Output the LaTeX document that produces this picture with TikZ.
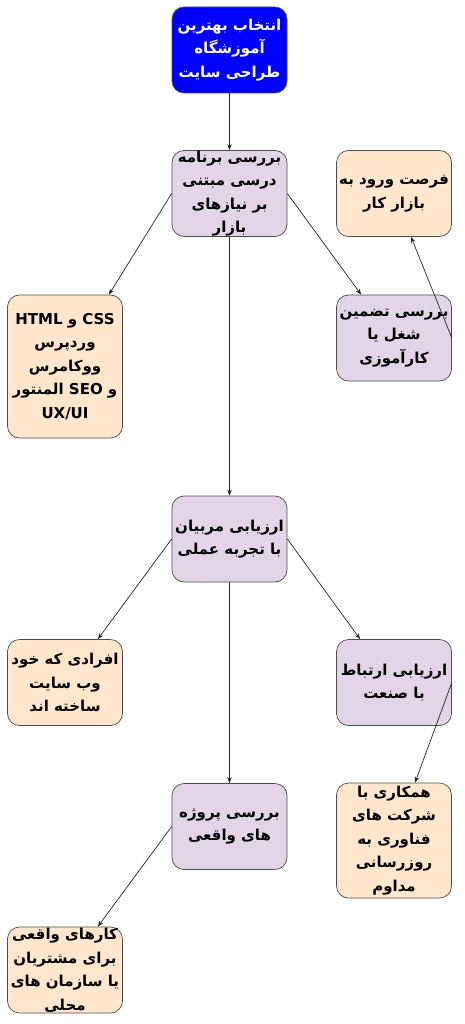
\documentclass[tikz,border=0pt]{standalone}
\usepackage{fontspec}
\usepackage{xcolor}
\usepackage{tikz}
\usetikzlibrary{arrows.meta, positioning}
\TeXXeTstate=1
\newfontfamily\arabicfont[Script=Arabic]{DejaVu Sans}
\newfontfamily\latinfont{DejaVu Sans}
\newcommand{\fa}[1]{\beginR #1\endR}
\newcommand{\lat}[1]{\beginL{\latinfont #1}\endL{}}
\definecolor{lavender}{HTML}{E1D5E7}
\definecolor{peach}{HTML}{FFE6CC}
\definecolor{edgegray}{HTML}{4D4D4D}
\tikzset{
    box/.style={rectangle, rounded corners=12pt, draw=edgegray, line width=0.7pt,
        minimum width=115pt, minimum height=86pt, align=center,
        inner xsep=0pt, inner ysep=0pt, font=\arabicfont\bfseries\fontsize{15}{23.5}\selectfont},
    startbox/.style={box, fill=blue, text=white},
    stepbox/.style={box, fill=lavender},
    resultbox/.style={box, fill=peach},
}

\begin{document}
\begin{tikzpicture}[x=1pt, y=-1pt, node distance=143.5pt, >={Stealth[length=6pt, width=4.5pt]}]
            \useasboundingbox (0,0) rectangle (464,1024);
            \node[startbox] (start) at (229.5,50) {\fa{انتخاب بهترین}\\ \fa{آموزشگاه}\\ \fa{طراحی سایت}};
            \node[stepbox, below of=start] (curriculum) {\fa{بررسی برنامه}\\ \fa{درسی مبتنی}\\ \fa{بر نیازهای}\\ \fa{بازار}};
            \node[resultbox, right of=curriculum, xshift=21pt] (market) {\fa{فرصت ورود به}\\ \fa{بازار کار}};
            \node[stepbox, below of=market, yshift=-1pt] (guarantee) {\fa{بررسی تضمین}\\ \fa{شغل یا}\\ \fa{کارآموزی}};
            \node[resultbox, below of=curriculum, xshift=-164.5pt, yshift=-29.5pt, minimum height=143pt] (skills) {\fa{\lat{CSS} و \lat{HTML}}\\ \fa{وردپرس}\\ \fa{ووکامرس}\\ \fa{و \lat{SEO} المنتور}\\ \fa{\lat{UX/UI}}};
            \node[stepbox, below of=curriculum, yshift=-202pt] (trainers) {\fa{ارزیابی مربیان}\\ \fa{با تجربه عملی}};
            \node[resultbox, below of=trainers, xshift=-164.5pt] (builders) {\fa{افرادی که خود}\\ \fa{وب سایت}\\ \fa{ساخته اند}};
            \node[stepbox, below of=trainers, xshift=164.5pt] (industry) {\fa{ارزیابی ارتباط}\\ \fa{با صنعت}};
            \node[stepbox, below of=trainers, yshift=-144pt] (projects) {\fa{بررسی پروژه}\\ \fa{های واقعی}};
            \node[resultbox, below of=industry, yshift=-14.5pt, minimum height=115pt] (partners) {\fa{همکاری با}\\ \fa{شرکت های}\\ \fa{فناوری به}\\ \fa{روزرسانی}\\ \fa{مداوم}};
            \node[resultbox, below of=projects, xshift=-164.5pt] (clients) {\fa{کارهای واقعی}\\ \fa{برای مشتریان}\\ \fa{یا سازمان های}\\ \fa{محلی}};

            \draw[black!85, line width=0.7pt] (start) edge[->] (curriculum)
            (curriculum.west) edge[->] ([xshift=-14pt]skills.north east)
            (curriculum.east) edge[->] ([xshift=25pt]guarantee.north west)
            (curriculum) edge[->] (trainers)
            (guarantee.east) edge[->] ([xshift=17pt]market.south)
            (trainers.west) edge[->] ([xshift=-25pt]builders.north east)
            (trainers.east) edge[->] ([xshift=24pt]industry.north west)
            (trainers) edge[->] (projects)
            (industry.east) edge[->] ([xshift=21pt]partners.north)
            (projects.west) edge[->] ([xshift=-25pt]clients.north east);
        \end{tikzpicture}
\end{document}
